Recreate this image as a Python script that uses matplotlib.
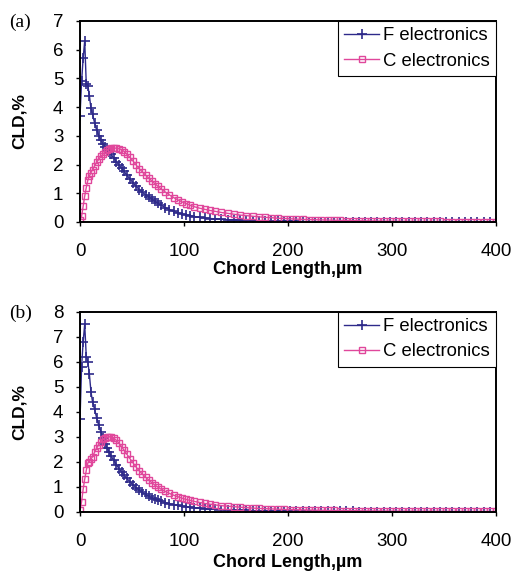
import matplotlib.pyplot as plt

# ======== Chord length distribution data ========
CHORD = [0, 1.5, 3, 4.5, 6, 7.5, 9, 10.5, 12,
         14, 16, 18, 20, 22, 24, 26, 28, 30,
         32.5, 35, 37.5, 40, 42.5, 45,
         48, 51, 54, 57, 60, 63, 66, 69, 72, 75, 78,
         82, 86, 90, 94, 98, 102, 106, 110,
         115, 120, 125, 130,
         136, 142, 148, 154, 160, 166, 172, 178, 184, 190, 196, 202,
         208, 214, 220, 226, 232, 238, 244, 250, 256, 262, 268, 274,
         280, 286, 292, 298, 304, 310, 316, 322, 328, 334, 340, 346,
         352, 358, 364, 370, 376, 382, 388, 394, 400]

TAIL_F = [0.018, 0.016, 0.015, 0.013, 0.012, 0.011, 0.01, 0.009, 0.008, 0.008,
          0.007, 0.006, 0.006, 0.005, 0.005, 0.004, 0.004, 0.004, 0.003, 0.003,
          0.003, 0.003, 0.002, 0.002, 0.002, 0.002, 0.002, 0.002, 0.001, 0.001,
          0.001, 0.001, 0.001]

# (a)
F_A = [3.7, 4.9, 5.7, 6.3, 4.8, 4.75, 4.4, 3.95, 3.75,
       3.45, 3.2, 3.0, 2.85, 2.72, 2.62, 2.52, 2.43, 2.35,
       2.22, 2.1, 1.98, 1.87, 1.76, 1.63,
       1.5, 1.36, 1.24, 1.12, 1.03, 0.95, 0.88, 0.8, 0.72, 0.65, 0.58,
       0.5, 0.43, 0.37, 0.32, 0.28, 0.25, 0.22, 0.19,
       0.16, 0.14, 0.12, 0.11,
       0.09, 0.08, 0.07, 0.06, 0.05, 0.045, 0.04, 0.035, 0.03, 0.027, 0.024, 0.02] + TAIL_F
C_A = [0.06, 0.2, 0.55, 0.9, 1.2, 1.45, 1.6, 1.72, 1.82,
       1.95, 2.08, 2.18, 2.28, 2.36, 2.44, 2.5, 2.54, 2.56,
       2.57, 2.57, 2.55, 2.52, 2.45, 2.36,
       2.25, 2.12, 1.98, 1.85, 1.74, 1.63, 1.53, 1.43, 1.33, 1.24, 1.15,
       1.04, 0.94, 0.85, 0.77, 0.7, 0.64, 0.58, 0.53,
       0.48, 0.44, 0.4, 0.37,
       0.33, 0.3, 0.27, 0.24, 0.22, 0.2, 0.18, 0.16, 0.15, 0.13, 0.12, 0.11,
       0.1, 0.09, 0.085, 0.078, 0.072, 0.066, 0.06, 0.055, 0.051, 0.047,
       0.043, 0.04, 0.037, 0.034, 0.031, 0.029, 0.027, 0.025, 0.023, 0.021,
       0.02, 0.019, 0.018, 0.017, 0.016, 0.015, 0.014, 0.013, 0.012, 0.012,
       0.011, 0.01, 0.01]

# (b)
F_B = [3.7, 5.8, 6.8, 7.5, 6.2, 6.0, 5.5, 4.8, 4.4,
       4.1, 3.75, 3.45, 3.2, 2.95, 2.72, 2.55, 2.38, 2.22,
       2.05, 1.88, 1.72, 1.58, 1.45, 1.33,
       1.2, 1.07, 0.96, 0.86, 0.77, 0.69, 0.62, 0.56, 0.5, 0.45, 0.41,
       0.36, 0.32, 0.28, 0.25, 0.22, 0.2, 0.18, 0.16,
       0.14, 0.12, 0.11, 0.1,
       0.085, 0.075, 0.065, 0.057, 0.05, 0.044, 0.039, 0.034, 0.03, 0.027, 0.024, 0.021] + TAIL_F
C_B = [0.07, 0.4, 0.9, 1.3, 1.65, 1.95, 2.0, 2.1, 2.2,
       2.38, 2.55, 2.68, 2.8, 2.9, 2.95, 2.98, 3.0, 2.98,
       2.94, 2.85, 2.74, 2.6, 2.45, 2.3,
       2.12, 1.95, 1.78, 1.63, 1.5, 1.38, 1.27, 1.16, 1.06, 0.98, 0.9,
       0.81, 0.73, 0.66, 0.6, 0.54, 0.49, 0.45, 0.41,
       0.37, 0.33, 0.3, 0.27,
       0.24, 0.22, 0.2, 0.18, 0.16, 0.145, 0.13, 0.12, 0.11, 0.1, 0.09, 0.085,
       0.078, 0.072, 0.066, 0.061, 0.056, 0.052, 0.048, 0.044, 0.041, 0.038,
       0.035, 0.032, 0.03, 0.028, 0.026, 0.024, 0.022, 0.021, 0.02, 0.019,
       0.018, 0.017, 0.016, 0.015, 0.014, 0.013, 0.012, 0.012, 0.011, 0.01,
       0.01, 0.009, 0.009]

SERIES_NAMES = ['F electronics', 'C electronics']
X_TICKS = [0, 100, 200, 300, 400]

plt.rcParams['font.family'] = ['Liberation Sans', 'DejaVu Sans']

F_COLOR = '#2e2a8a'
C_COLOR = '#e0479b'

fig = plt.figure(figsize=(5.13, 5.73), dpi=100)
ax_a = fig.add_axes([0.156, 0.6126, 0.811, 0.351])
ax_b = fig.add_axes([0.156, 0.1070, 0.811, 0.349])

# axes, y-values, y max, panel tag, xlabel offset
panels = [(ax_a, F_A, C_A, 7, '(a)', -0.195), (ax_b, F_B, C_B, 8, '(b)', -0.212)]

for ax, f_vals, c_vals, ymax, tag, xlab_y in panels:
    ax.plot(CHORD, f_vals, color=F_COLOR, linewidth=1.0, marker='+',
            markersize=7, markeredgewidth=1.2, label=SERIES_NAMES[0])
    ax.plot(CHORD, c_vals, color=C_COLOR, linewidth=1.0, marker='s',
            markersize=4, markerfacecolor='none', markeredgewidth=1.0,
            label=SERIES_NAMES[1])
    ax.set_xlim(0, 400)
    ax.set_ylim(0, ymax)
    ax.set_xticks(X_TICKS)
    ax.set_yticks(range(0, ymax + 1))
    ax.tick_params(labelsize=13.5, length=3, width=1)
    ax.tick_params(axis='x', pad=12)
    ax.tick_params(axis='y', pad=9)
    for sp in ax.spines.values():
        sp.set_linewidth(1.4)
    ax.set_xlabel('Chord Length,µm', fontsize=13, fontweight='bold')
    ax.set_ylabel('CLD,%', fontsize=12.5, fontweight='bold')
    ax.xaxis.set_label_coords(0.5, xlab_y)
    ax.yaxis.set_label_coords(-0.127, 0.5)
    leg = ax.legend(loc='upper right', fontsize=13.3, frameon=True, fancybox=False,
                    framealpha=1, edgecolor='black', borderaxespad=0,
                    handlelength=1.9, handletextpad=0.2, borderpad=0.35,
                    labelspacing=0.45)
    leg.get_frame().set_linewidth(0.8)
    pos = ax.get_position()
    fig.text(0.018, pos.y1 - 0.003, tag, fontsize=14, family='Liberation Serif',
             va='center', ha='left')

fig.savefig('out.png', dpi=100)
